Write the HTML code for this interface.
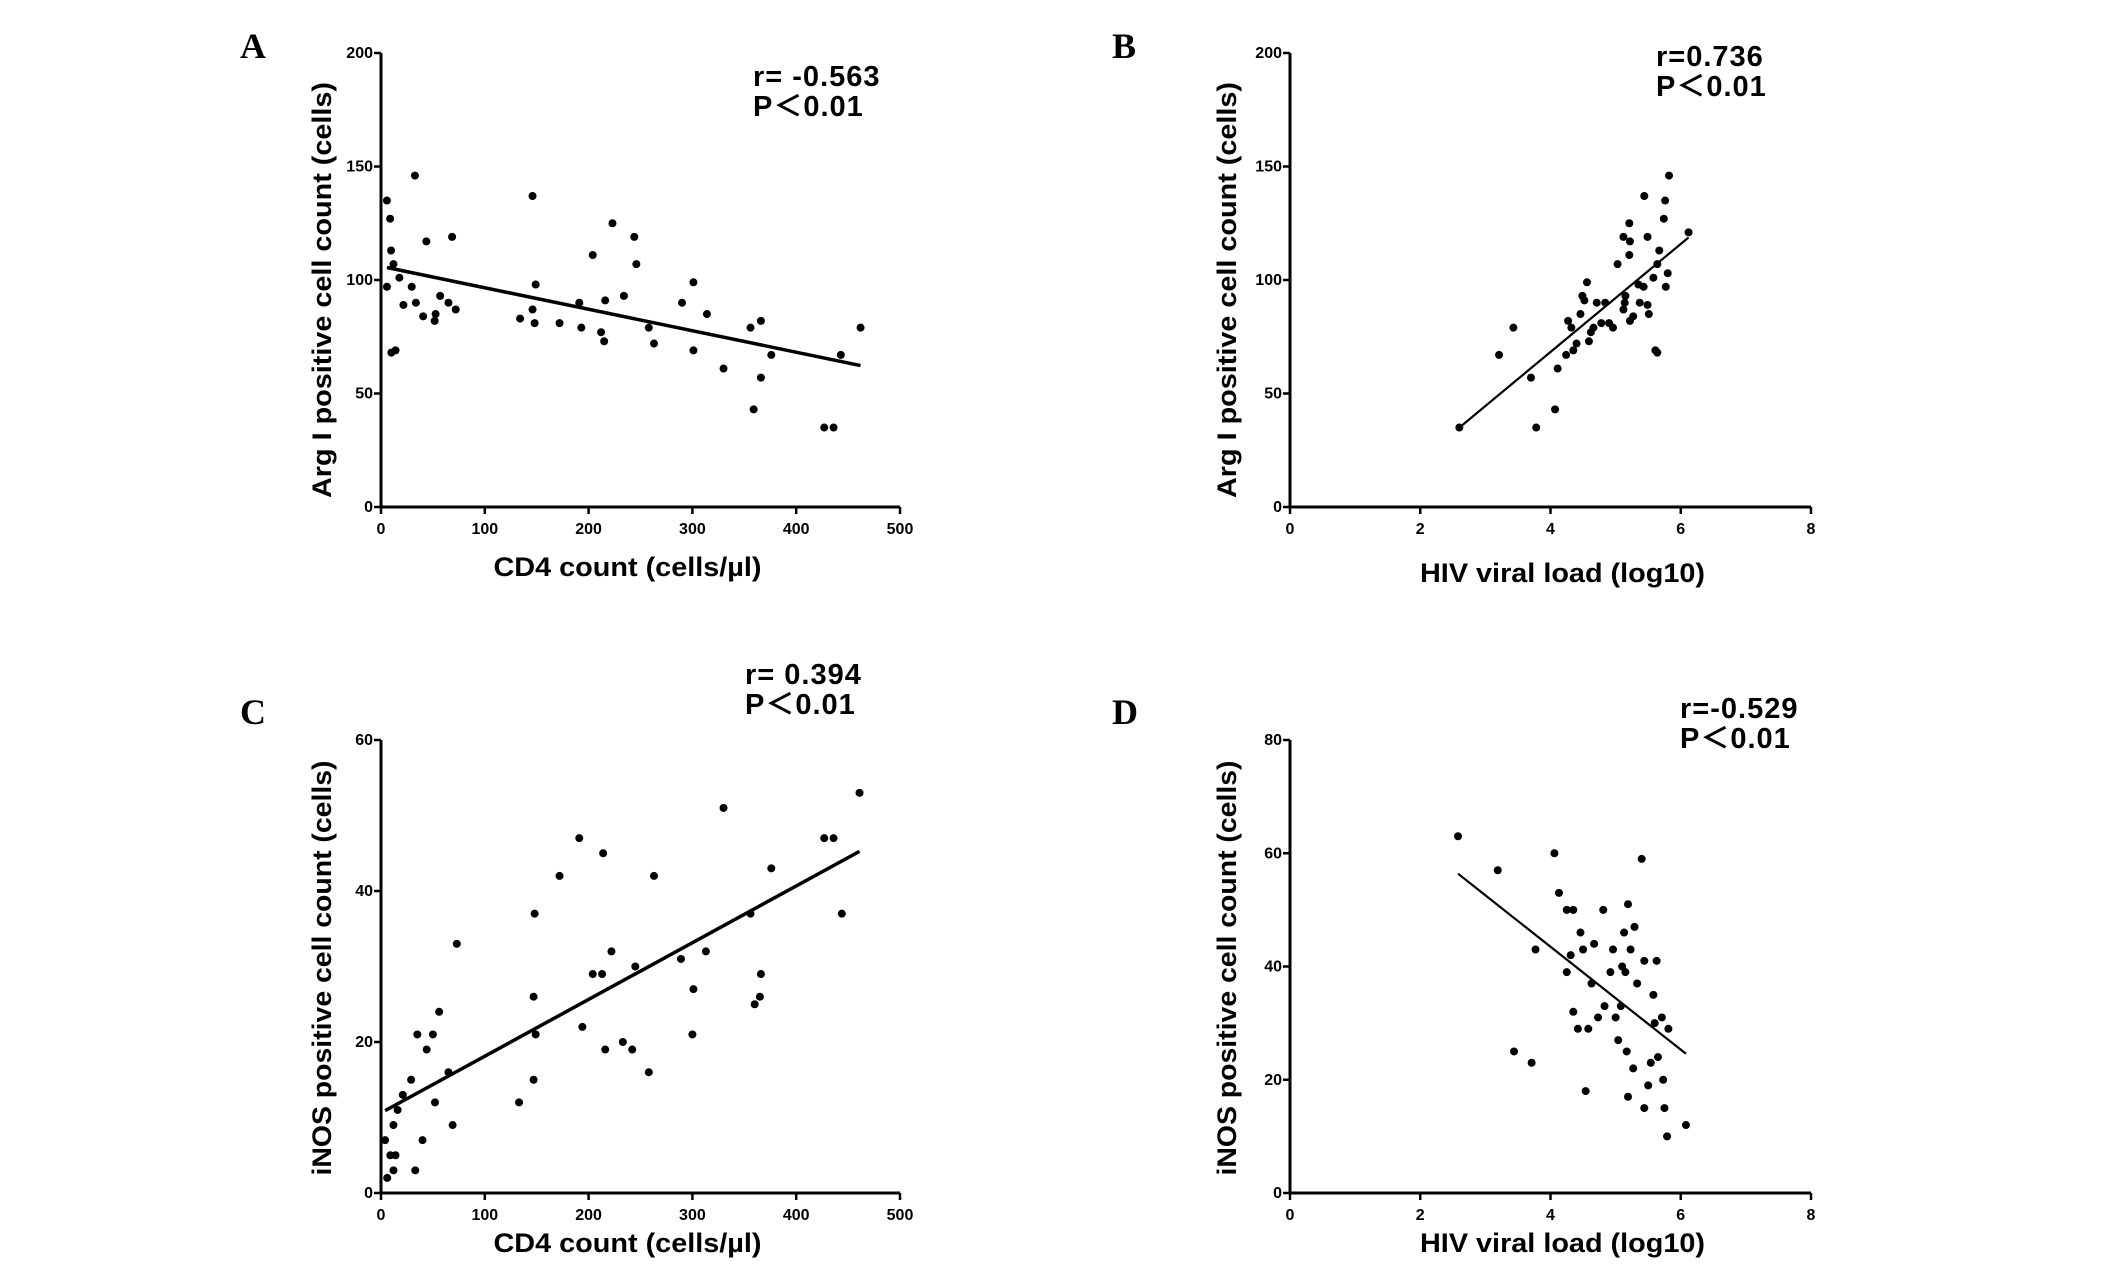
<!DOCTYPE html>
<html><head><meta charset="utf-8"><style>
html,body{margin:0;padding:0;background:#fff;}
svg text{font-family:"Liberation Sans","Noto Sans CJK SC",sans-serif;}
.tick{font-family:"Liberation Sans Narrow","Liberation Sans",sans-serif;font-size:16px;font-weight:bold;}
.title{font-size:27px;font-weight:bold;}
.stat{font-size:29px;font-weight:bold;letter-spacing:1px;}
.panel{font-family:"Liberation Serif",serif;font-size:36px;font-weight:bold;}
</style></head><body>
<svg id="chart" width="2126" height="1270" viewBox="0 0 2126 1270" xmlns="http://www.w3.org/2000/svg"></svg>
<script>
// Panel A: CD4 vs Arg I
const aX=[5.7,8.8,9.7,12,5.7,17.7,21.6,29.6,32.7,33.6,40.6,43.7,52.6,51.7,57,65,68.5,72,10,14,134,146,146,148,149,172,191,193,204,212,215,216,223,234,244,246,258,263,290,301,301,314,330,356,359,366,366,376,427,436,443,462];
const aY=[135,127,113,107,97,101,89,97,146,90,84,117,85,82,93,90,119,87,68,69,83,137,87,81,98,81,90,79,111,77,73,91,125,93,119,107,79,72,90,99,69,85,61,79,43,57,82,67,35,35,67,79];
// Panel B: viral load vs Arg I
const bX=[2.6,3.21,3.43,3.7,3.78,4.07,4.11,4.24,4.27,4.32,4.35,4.4,4.46,4.49,4.52,4.56,4.59,4.62,4.66,4.71,4.78,4.84,4.9,4.96,5.03,5.12,5.12,5.14,5.15,5.21,5.22,5.21,5.22,5.27,5.35,5.37,5.43,5.49,5.44,5.49,5.51,5.58,5.61,5.64,5.64,5.67,5.74,5.76,5.77,5.8,5.82,6.12];
const bY=[35,67,79,57,35,43,61,67,82,79,69,72,85,93,91,99,73,77,79,90,81,90,81,79,107,119,87,90,93,125,117,111,82,84,98,90,97,89,137,119,85,101,69,68,107,113,127,135,97,103,146,121];
// Panel C: CD4 vs iNOS
const cX=[4,9,12,6,12,14,16,21,29,33,35,40,44,50,52,56,65,69,73,133,148,147,147,149,172,191,194,204,213,214,216,222,233,242,245,258,263,289,300,301,313,330,356,360,365,366,376,427,436,444,461];
const cY=[7,5,9,2,3,5,11,13,15,3,21,7,19,21,12,24,16,9,33,12,37,26,15,21,42,47,22,29,29,45,19,32,20,19,30,16,42,31,21,27,32,51,37,25,26,29,43,47,47,37,53];
// Panel D: viral load vs iNOS
const dX=[2.58,3.19,3.44,3.71,3.77,4.06,4.13,4.25,4.25,4.31,4.35,4.35,4.46,4.42,4.5,4.54,4.58,4.63,4.67,4.73,4.81,4.83,4.92,4.96,5,5.04,5.08,5.1,5.13,5.19,5.17,5.19,5.15,5.23,5.27,5.29,5.33,5.4,5.44,5.44,5.5,5.54,5.58,5.63,5.6,5.65,5.71,5.73,5.75,5.79,5.81,6.08];
const dY=[63,57,25,23,43,60,53,50,39,42,32,50,46,29,43,18,29,37,44,31,50,33,39,43,31,27,33,40,46,51,25,17,39,43,22,47,37,59,41,15,19,23,35,41,30,24,31,20,15,10,29,12];
const cd4Ticks=[0,100,200,300,400,500];
const vlTicks=[0,2,4,6,8];
const argTicks=[0,50,100,150,200];
const inosTicks=[0,20,40,60];
const inos2Ticks=[0,20,40,60,80];
const statsA=["r= -0.563","P＜0.01"];
const statsB=["r=0.736","P＜0.01"];
const statsC=["r= 0.394","P＜0.01"];
const statsD=["r=-0.529","P＜0.01"];

const svg=document.getElementById('chart');
const NS='http://www.w3.org/2000/svg';
function mk(tag,attrs,parent){const e=document.createElementNS(NS,tag);for(const k in attrs)e.setAttribute(k,attrs[k]);(parent||svg).appendChild(e);return e;}

function panel(o){
  const g=mk('g',{});
  
  
  const xmax=o.xt[o.xt.length-1], ymax=o.yt[o.yt.length-1];
  const sx=v=>o.x0+(v/xmax)*(o.x1-o.x0);
  const sy=v=>o.y0-(v/ymax)*(o.y0-o.y1);
  const L=mk('text',{x:o.lx,y:o.ly,class:'panel'},g);L.textContent=o.letter;
  
  
  const ax=mk('path',{d:`M${o.x0},${o.y1} L${o.x0},${o.y0} L${o.x1},${o.y0}`,fill:'none',stroke:'#000','stroke-width':3},g);
  
  
  o.xt.forEach(t=>{
    const X=sx(t);
    mk('line',{x1:X,y1:o.y0,x2:X,y2:o.y0+7,stroke:'#000','stroke-width':2.5},g);
    const tx=mk('text',{x:X,y:o.y0+27,'text-anchor':'middle',class:'tick'},g);tx.textContent=t;
    
    
  });
  o.yt.forEach(t=>{
    const Y=sy(t);
    mk('line',{x1:o.x0-7,y1:Y,x2:o.x0,y2:Y,stroke:'#000','stroke-width':2.5},g);
    const ty=mk('text',{x:o.x0-8,y:Y+5,'text-anchor':'end',class:'tick'},g);ty.textContent=t;
    
    
  });
  const xtE=mk('text',{x:(o.x0+o.x1)/2+o.xto,y:o.xty,'text-anchor':'middle',class:'title',textLength:o.xtl,lengthAdjust:'spacingAndGlyphs'},g);
  xtE.textContent=o.xtitle;
  
  
  const ytE=mk('text',{x:0,y:0,transform:`translate(${o.ytx},${o.ytc}) rotate(-90)`,'text-anchor':'middle',class:'title',textLength:o.ytl,lengthAdjust:'spacingAndGlyphs'},g);
  ytE.textContent=o.ytitle;
  
  
  o.stats.forEach((s,i)=>{
    const st=mk('text',{x:o.sx,y:o.sy+i*30,class:'stat'},g);st.textContent=s;
    
    
  });
  o.X.forEach((v,i)=>{
    const c=mk('circle',{cx:sx(v),cy:sy(o.Y[i]),r:4,fill:'#000'},g);
    
    
  });
  const n=o.X.length;let mx=0,my=0;o.X.forEach((v,i)=>{mx+=v;my+=o.Y[i];});mx/=n;my/=n;
  let sxy=0,sxx=0;o.X.forEach((v,i)=>{sxy+=(v-mx)*(o.Y[i]-my);sxx+=(v-mx)*(v-mx);});
  const b=sxy/sxx,a=my-b*mx;const xa=Math.min(...o.X),xb=Math.max(...o.X);
  const rl=mk('line',{x1:sx(xa),y1:sy(a+b*xa),x2:sx(xb),y2:sy(a+b*xb),stroke:'#000','stroke-width':o.lw},g);
  
  
}
panel({name:'panel-a',letter:'A',lx:240,ly:58,x0:381,x1:900,y0:507,y1:53,xt:cd4Ticks,yt:argTicks,X:aX,Y:aY,
  xtitle:'CD4 count (cells/µl)',xto:-13,xty:576,xtl:268,ytitle:'Arg I positive cell count (cells)',ytx:331,ytc:290,ytl:416,stats:statsA,sx:753,sy:86,lw:3.5});
panel({name:'panel-b',letter:'B',lx:1112,ly:58,x0:1290,x1:1811,y0:507,y1:53,xt:vlTicks,yt:argTicks,X:bX,Y:bY,
  xtitle:'HIV viral load (log10)',xto:12,xty:582,xtl:285,ytitle:'Arg I positive cell count (cells)',ytx:1236,ytc:290,ytl:416,stats:statsB,sx:1656,sy:66,lw:2.2});
panel({name:'panel-c',letter:'C',lx:240,ly:724,x0:381,x1:900,y0:1193,y1:740,xt:cd4Ticks,yt:inosTicks,X:cX,Y:cY,
  xtitle:'CD4 count (cells/µl)',xto:-13,xty:1252,xtl:268,ytitle:'iNOS positive cell count (cells)',ytx:331,ytc:968,ytl:415,stats:statsC,sx:745,sy:684,lw:3.5});
panel({name:'panel-d',letter:'D',lx:1112,ly:724,x0:1290,x1:1811,y0:1193,y1:740,xt:vlTicks,yt:inos2Ticks,X:dX,Y:dY,
  xtitle:'HIV viral load (log10)',xto:12,xty:1252,xtl:285,ytitle:'iNOS positive cell count (cells)',ytx:1236,ytc:968,ytl:415,stats:statsD,sx:1680,sy:718,lw:2.2});
</script>
</body></html>
